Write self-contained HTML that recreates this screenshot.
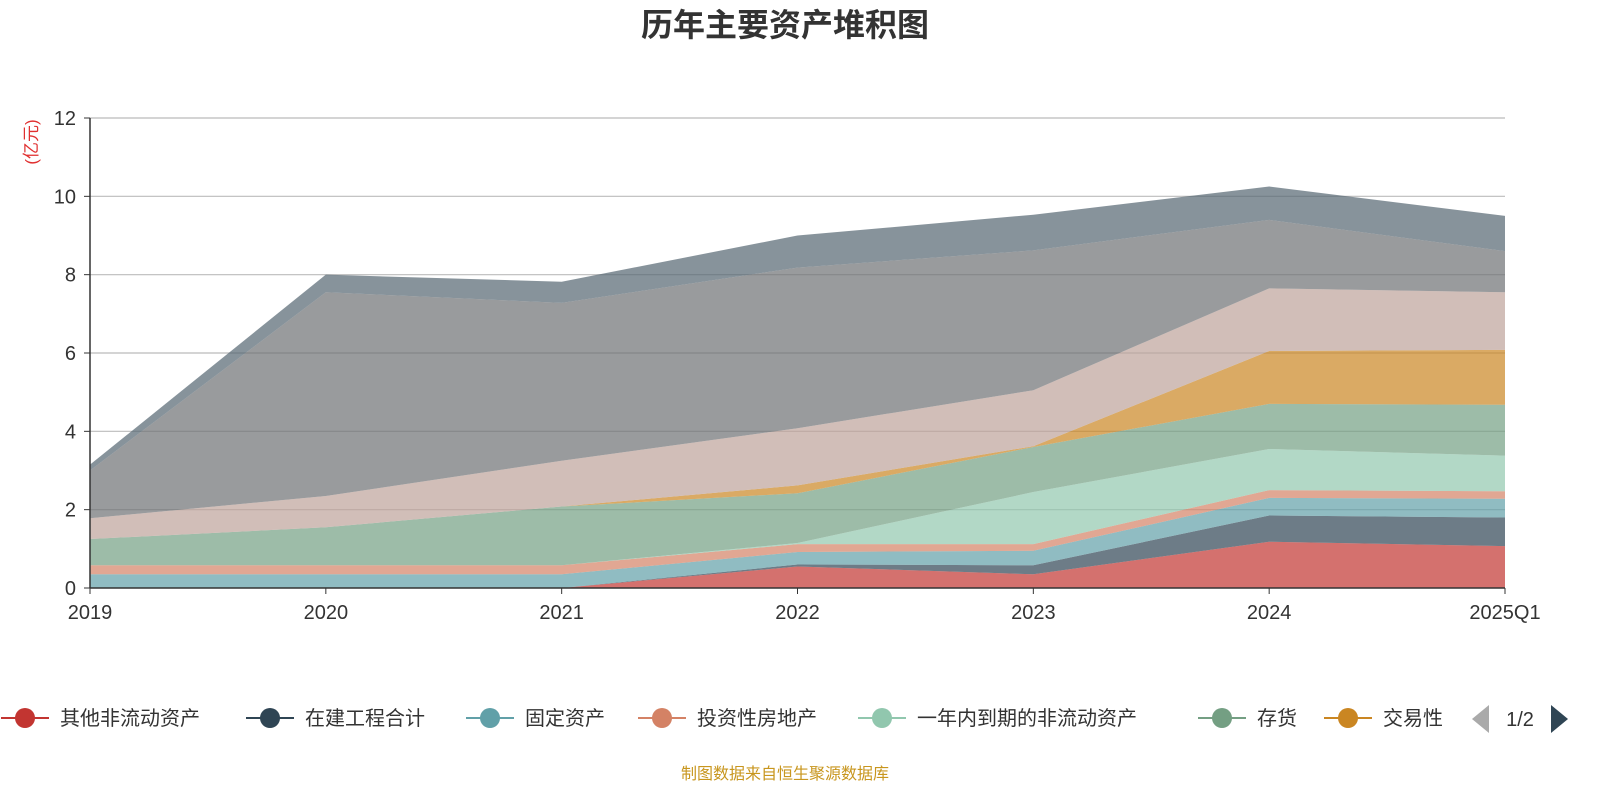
<!DOCTYPE html>
<html><head><meta charset="utf-8">
<style>
html,body{margin:0;padding:0;background:#fff;width:1600px;height:800px;overflow:hidden;font-family:"Liberation Sans","Noto Sans CJK SC",sans-serif;}
svg{display:block;}
svg text{font-family:"Liberation Sans","Noto Sans CJK SC",sans-serif;}
</style></head>
<body>
<svg id="chart" width="1600" height="800" xmlns="http://www.w3.org/2000/svg">
<text x="785" y="36" text-anchor="middle" font-size="32" font-weight="bold" fill="#333">历年主要资产堆积图</text>
<text transform="translate(37,142) rotate(-90)" text-anchor="middle" font-size="17" fill="#e03030">(亿元)</text>
<g id="grid"></g>
<g id="areas"></g>
<g id="axes"></g>
<g id="legend"></g>
<text x="785" y="779" text-anchor="middle" font-size="16" fill="#c8961e">制图数据来自恒生聚源数据库</text>
</svg>
<script>
const categories=["2019","2020","2021","2022","2023","2024","2025Q1"];
const seriesNames=["其他非流动资产","在建工程合计","固定资产","投资性房地产","一年内到期的非流动资产","存货","交易性","应收","货币资金","其他"];
const s0=[0,0,0,0.55,0.35,1.18,1.07];
const s1=[0,0,0,0.05,0.23,0.67,0.73];
const s2=[0.35,0.35,0.35,0.32,0.37,0.45,0.48];
const s3=[0.23,0.23,0.23,0.2,0.17,0.2,0.19];
const s4=[0,0,0,0.03,1.33,1.05,0.91];
const s5=[0.67,0.97,1.5,1.27,1.15,1.15,1.3];
const s6=[0,0,0,0.2,0.02,1.35,1.4];
const s7=[0.53,0.8,1.17,1.46,1.43,1.6,1.47];
const s8=[1.22,5.2,4.03,4.1,3.57,1.75,1.05];
const s9=[0.15,0.45,0.54,0.82,0.91,0.85,0.9];
const yTicks=[0,2,4,6,8,10,12];
const series=[s0,s1,s2,s3,s4,s5,s6,s7,s8,s9];
const colors=["#c23531","#2f4554","#61a0a8","#d48265","#91c7ae","#749f83","#ca8622","#bda29a","#6e7074","#546570"];
const NS="http://www.w3.org/2000/svg";
const x0=90,x1=1505,yb=588,yt=118,ymax=12;
const xs=i=>x0+i*(x1-x0)/(categories.length-1);
const ys=v=>yb-v/ymax*(yb-yt);
function mk(tag,attrs,parent){const e=document.createElementNS(NS,tag);for(const k in attrs)e.setAttribute(k,attrs[k]);parent.appendChild(e);return e;}
const grid=document.getElementById('grid'),axes=document.getElementById('axes'),areas=document.getElementById('areas'),legend=document.getElementById('legend');
yTicks.forEach(t=>{
 if(t>0){const l=mk('line',{x1:x0,x2:x1,y1:ys(t),y2:ys(t),stroke:'#bbb','stroke-width':1.2},grid);
 
 }
 const tk=mk('line',{x1:x0-6,x2:x0,y1:ys(t),y2:ys(t),stroke:'#333'},axes);
 
 
 const tx=mk('text',{x:x0-14,y:ys(t)+7,'text-anchor':'end','font-size':20,fill:'#333'},axes);
 tx.textContent=t;
 
 
});
let cum=categories.map(()=>0);
series.forEach((s,k)=>{
 const lower=cum.slice();const upper=cum.map((c,i)=>c+s[i]);
 let d='M'+upper.map((v,i)=>xs(i)+','+ys(v)).join(' L');
 for(let i=lower.length-1;i>=0;i--)d+=' L'+xs(i)+','+ys(lower[i]);
 const p=mk('path',{d:d+'Z',fill:colors[k],'fill-opacity':0.7,stroke:'none'},areas);
 
 
 cum=upper;
});
const ax=mk('line',{x1:x0,x2:x0,y1:yt,y2:yb,stroke:'#333','stroke-width':1.5},axes);


const bx=mk('line',{x1:x0,x2:x1,y1:yb,y2:yb,stroke:'#333','stroke-width':1.5},axes);


categories.forEach((c,i)=>{
 const tk=mk('line',{x1:xs(i),x2:xs(i),y1:yb,y2:yb+6,stroke:'#333'},axes);
 
 
 const tx=mk('text',{x:xs(i),y:619,'text-anchor':'middle','font-size':20,fill:'#333'},axes);
 tx.textContent=c;
 
 
});
const legX=[25,270,490,662,882,1222,1348];
legX.forEach((cx,k)=>{
 const g=mk('g',{},legend);
 
 
 mk('line',{x1:cx-24,x2:cx+24,y1:718,y2:718,stroke:colors[k],'stroke-width':2},g);
 mk('circle',{cx:cx,cy:718,r:10,fill:colors[k]},g);
 const t=mk('text',{x:cx+35,y:725,'font-size':20,fill:'#333'},g);
 t.textContent=seriesNames[k];
});
const pl=mk('path',{d:'M1472,719 L1489,705 L1489,733 Z',fill:'#aaa'},legend);


const pt=mk('text',{x:1520,y:726,'text-anchor':'middle','font-size':20,fill:'#333'},legend);
pt.textContent='1/2';


const pn=mk('path',{d:'M1568,719 L1551,705 L1551,733 Z',fill:'#2f4554'},legend);


</script>
</body></html>
